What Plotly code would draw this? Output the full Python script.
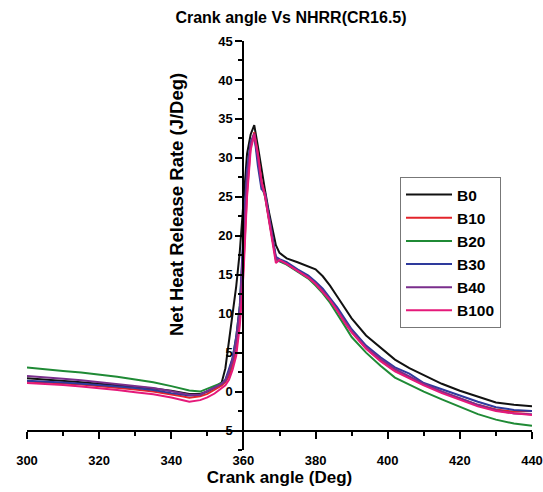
import plotly.graph_objects as go

crank = [300,305,310,315,320,325,330,335,340,343,345,348,350,352,354,355,356,357,358,359,360,
         361,362,363,364,365,366,367,368,369,370,372,375,378,380,382,384,386,388,390,394,398,
         402,406,410,415,420,425,430,435,440]

b0 = [1.7,1.55,1.4,1.2,1.0,0.8,0.6,0.4,0.1,-0.1,-0.3,-0.3,0.0,0.5,1.2,3.0,6.5,10.0,13.5,18.0,24.0,
      30.5,33.0,34.2,31.5,28.5,25.8,23.2,20.8,18.8,17.8,17.1,16.6,16.1,15.7,14.8,13.6,12.2,10.8,9.4,7.2,5.6,
      4.1,3.0,2.1,1.0,0.1,-0.7,-1.4,-1.7,-1.9]
b10 = [1.3,1.2,1.05,0.9,0.7,0.5,0.25,0.0,-0.35,-0.6,-0.8,-0.6,-0.3,0.2,0.8,1.2,2.0,3.4,5.3,9.5,16.0,
       25.5,31.5,33.3,30.5,27.0,25.3,22.4,19.5,17.0,16.8,16.4,15.5,14.6,13.8,12.9,11.8,10.5,9.0,7.7,5.6,4.0,
       2.7,1.8,0.9,0.0,-0.9,-1.7,-2.3,-2.6,-2.5]
b20 = [3.1,2.85,2.65,2.45,2.2,1.9,1.55,1.2,0.7,0.4,0.15,0.0,0.35,0.7,1.1,1.5,2.6,4.3,7.0,11.0,19.5,
       27.5,31.5,32.8,30.0,26.5,25.0,22.3,19.3,17.0,16.7,16.3,15.4,14.5,13.6,12.6,11.4,10.0,8.5,7.0,5.0,3.3,
       1.8,0.9,0.0,-1.0,-2.0,-2.9,-3.6,-4.1,-4.4]
b30 = [1.4,1.3,1.15,1.0,0.85,0.65,0.45,0.2,-0.2,-0.4,-0.5,-0.4,0.05,0.5,1.0,1.5,2.8,4.3,7.0,11.0,20.5,
       28.5,32.0,33.0,29.0,26.0,25.5,22.8,19.8,17.3,17.0,16.6,15.7,14.9,14.1,13.2,12.0,10.8,9.4,8.0,5.9,4.4,
       3.1,2.3,1.1,0.3,-0.6,-1.3,-2.0,-2.35,-2.5]
b40 = [2.0,1.85,1.65,1.45,1.2,0.95,0.7,0.45,0.05,-0.2,-0.4,-0.4,0.0,0.5,1.0,1.4,2.5,4.0,6.5,10.5,19.0,
       27.5,31.8,33.1,30.0,26.5,25.3,22.5,19.5,17.1,16.8,16.4,15.5,14.7,13.9,13.0,11.8,10.5,9.1,7.8,5.7,4.2,
       2.9,2.0,1.0,0.0,-0.9,-1.7,-2.4,-2.8,-2.9]
b100 = [1.1,1.0,0.85,0.65,0.45,0.2,-0.1,-0.35,-0.75,-1.1,-1.3,-1.1,-0.75,-0.25,0.4,0.8,1.5,2.8,4.6,8.5,15.0,
        25.0,31.0,33.0,30.5,27.0,25.0,22.0,19.0,16.5,16.9,16.4,15.5,14.6,13.8,12.8,11.7,10.4,8.9,7.6,5.5,3.9,
        2.6,1.7,0.8,-0.2,-1.1,-1.9,-2.5,-2.8,-3.0]

names = ["B0", "B10", "B20", "B30", "B40", "B100"]
series = [b0, b10, b20, b30, b40, b100]
colors = ["#111111", "#e3242b", "#1f8a35", "#2e3a9c", "#7a2e8c", "#e5197a"]

FONT = "Liberation Sans, Arial, sans-serif"

fig = go.Figure()
for n, s, c in zip(names, series, colors):
    fig.add_trace(go.Scatter(x=crank, y=s, mode="lines", name=n,
                             line=dict(color=c, width=2)))

xmin, xmax = 300, 440
ymin, ymax = -7.5, 45
ycross = -5
xcross = 360

fig.update_layout(
    width=543, height=492,
    margin=dict(l=27, r=11, t=41, b=42),
    paper_bgcolor="white", plot_bgcolor="white",
    font=dict(family=FONT, color="black", size=13, weight="bold"),
    title=dict(text="Crank angle Vs NHRR(CR16.5)", x=291 / 543, xref="container", xanchor="center",
               y=1 - 17 / 492, yanchor="middle", yref="container",
               font=dict(family=FONT, size=16, weight="bold", color="black")),
    showlegend=True,
    legend=dict(x=(400 - 27) / 505, y=(450 - 177) / 409, xanchor="left", yanchor="top",
                bordercolor="#777777", borderwidth=1, bgcolor="white",
                font=dict(family=FONT, size=15.5, weight="bold", color="black"),
                tracegroupgap=0, itemwidth=46),
    xaxis=dict(range=[xmin, xmax], anchor="free", position=(ycross - ymin) / (ymax - ymin),
               automargin=False,
               showgrid=False, zeroline=False, showline=True, linecolor="black", linewidth=2,
               ticks="outside", ticklen=7, tickwidth=2, tickcolor="black", dtick=20, tick0=300,
               ticklabelstandoff=11,
               minor=dict(ticks="outside", ticklen=4, tickwidth=2, tickcolor="black", dtick=10),
               tickfont=dict(family=FONT, size=13, weight="bold"),
               title=dict(text="Crank angle (Deg)", standoff=1,
                          font=dict(family=FONT, size=17, weight="bold"))),
    yaxis=dict(range=[ymin, ymax], anchor="free", position=(xcross - xmin) / (xmax - xmin),
               automargin=False,
               showgrid=False, zeroline=False, showline=True, linecolor="black", linewidth=2,
               ticks="outside", ticklen=7, tickwidth=2, tickcolor="black", dtick=5, tick0=0,
               minor=dict(ticks="outside", ticklen=4, tickwidth=2, tickcolor="black", dtick=2.5),
               tickfont=dict(family=FONT, size=13, weight="bold")),
    annotations=[dict(text="Net Heat Release Rate (J/Deg)", textangle=-90,
                      xref="paper", yref="paper",
                      x=(177 - 27) / 505, y=(450 - 205) / 409,
                      xanchor="center", yanchor="middle", showarrow=False,
                      font=dict(family=FONT, size=18.5, weight="bold", color="black"))],
)

fig.write_html("out.html")
